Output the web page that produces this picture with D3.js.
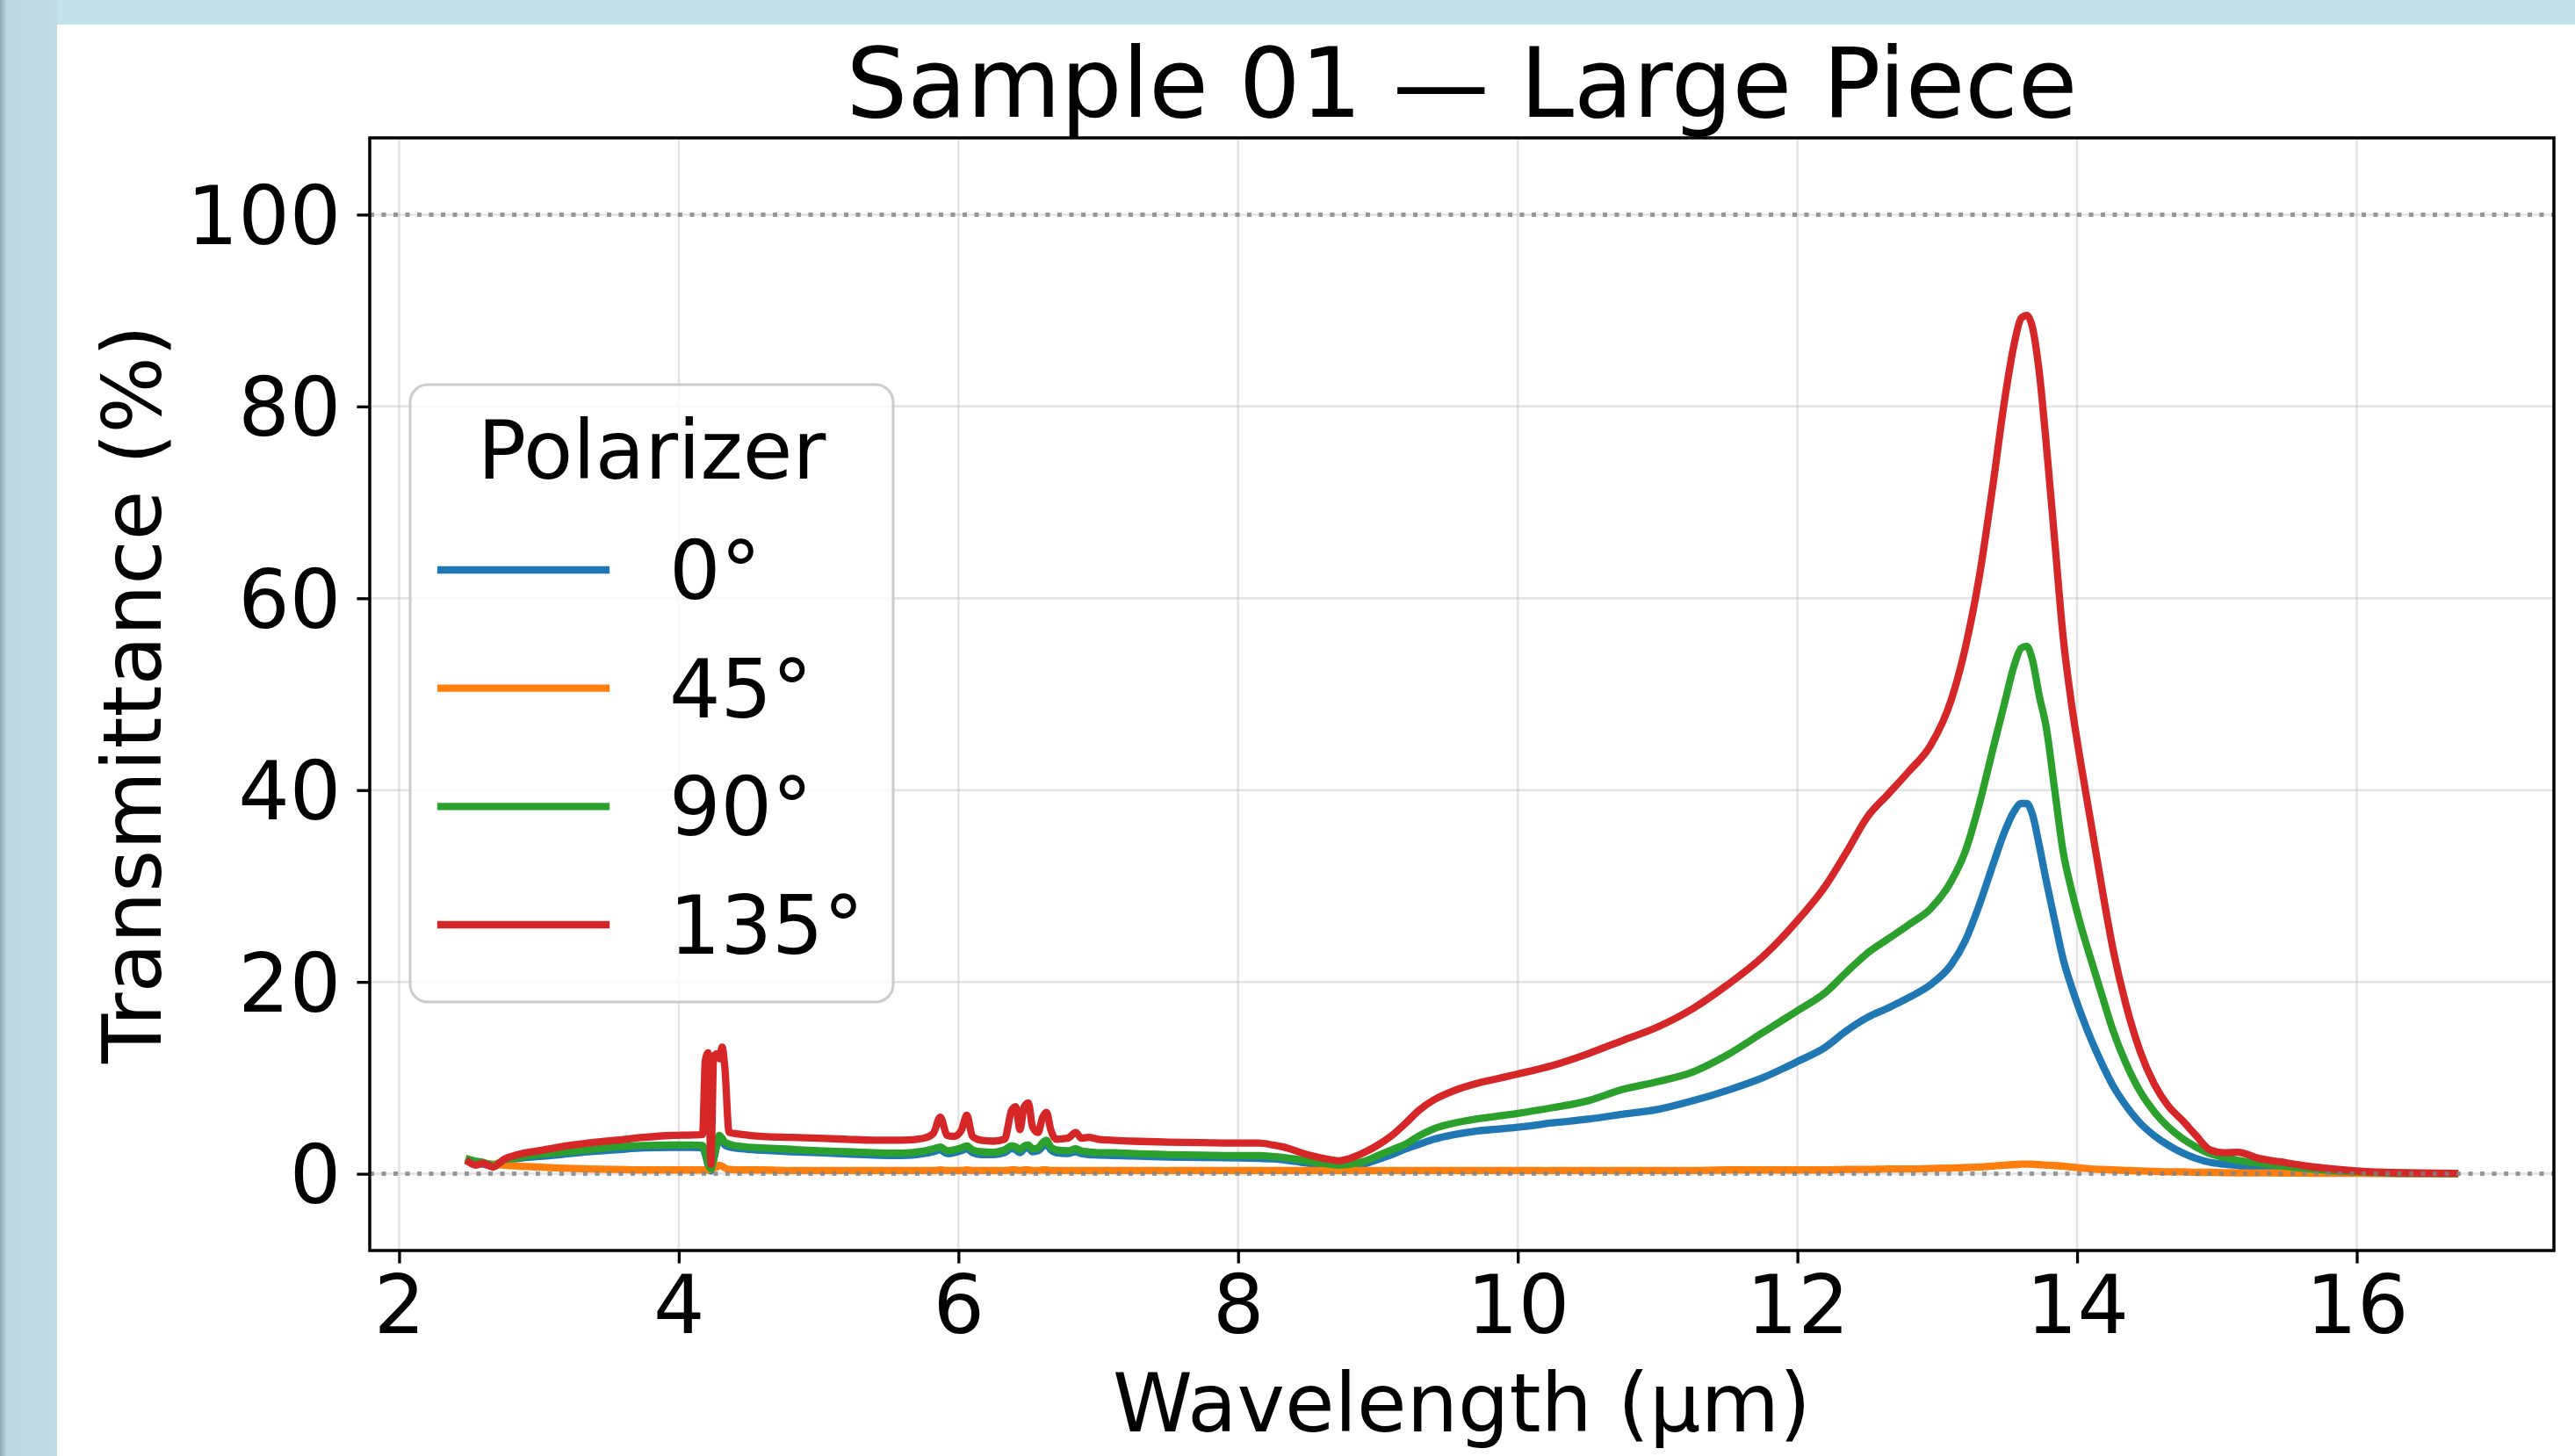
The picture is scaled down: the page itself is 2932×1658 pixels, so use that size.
<!DOCTYPE html>
<html>
<head>
<meta charset="utf-8">
<script src="https://cdn.jsdelivr.net/npm/d3@7"></script>
<style>
  html, body { margin: 0; padding: 0; background: #ffffff; }
  svg { display: block; }
  text { font-family: "DejaVu Sans", sans-serif; fill: #000; }
</style>
</head>
<body>
<svg id="chart" width="2932" height="1658"></svg>
<script>
// ---------------- data ----------------
const chartTitle = "Sample 01 — Large Piece";
const xLabel = "Wavelength (μm)";
const yLabel = "Transmittance (%)";
const legendTitle = "Polarizer";
const seriesLabels = ["0°", "45°", "90°", "135°"];
const seriesColors = ["#1f77b4", "#ff7f0e", "#2ca02c", "#d62728"];
const xTicks = [2, 4, 6, 8, 10, 12, 14, 16];
const yTicks = [0, 20, 40, 60, 80, 100];
const refLines = [0, 100];

const wavelength = [
  2.50, 2.55, 2.60, 2.67, 2.75, 2.85, 3.00, 3.15, 3.35, 3.55, 3.75, 3.95, 4.10, 4.17,
  4.19, 4.21, 4.23, 4.25, 4.27, 4.29, 4.31, 4.33, 4.36, 4.45, 4.60, 4.80, 5.00, 5.20,
  5.40, 5.60, 5.75, 5.82, 5.87, 5.92, 5.97, 6.02, 6.06, 6.10, 6.16, 6.25, 6.33, 6.38,
  6.41, 6.44, 6.47, 6.50, 6.53, 6.57, 6.60, 6.63, 6.66, 6.70, 6.78, 6.84, 6.88, 6.93,
  7.00, 7.10, 7.25, 7.50, 7.75, 8.00, 8.15, 8.25, 8.35, 8.45, 8.55, 8.65, 8.72, 8.80,
  8.90, 9.00, 9.10, 9.20, 9.30, 9.40, 9.55, 9.70, 9.85, 10.00, 10.25, 10.50, 10.75, 11.00,
  11.25, 11.50, 11.75, 12.00, 12.20, 12.35, 12.50, 12.65, 12.80, 12.95, 13.10, 13.20, 13.30, 13.40,
  13.48, 13.55, 13.60, 13.64, 13.68, 13.73, 13.78, 13.84, 13.90, 13.96, 14.03, 14.10, 14.18, 14.26,
  14.35, 14.45, 14.55, 14.65, 14.75, 14.85, 14.95, 15.05, 15.15, 15.30, 15.45, 15.60, 15.80, 16.00,
  16.20, 16.45, 16.70
];

// 0° polarizer
const t0 = [
  1.3, 1.1, 1.0, 0.8, 1.3, 1.6, 1.8, 2.0, 2.3, 2.5, 2.7, 2.75, 2.75, 2.7,
  2.0, 0.9, 0.3, 1.5, 2.8, 3.6, 3.4, 3.0, 2.8, 2.6, 2.45, 2.3, 2.2, 2.05,
  1.95, 1.9, 2.1, 2.3, 2.5, 2.1, 2.2, 2.4, 2.6, 2.2, 2.0, 2.0, 2.2, 2.6,
  2.5, 2.2, 2.6, 2.7, 2.3, 2.4, 2.8, 3.1, 2.5, 2.2, 2.1, 2.3, 2.1, 2.0,
  1.95, 1.9, 1.85, 1.75, 1.7, 1.65, 1.6, 1.55, 1.4, 1.2, 1.0, 0.8, 0.7, 0.75,
  1.0, 1.5, 2.0, 2.6, 3.1, 3.6, 4.1, 4.45, 4.65, 4.85, 5.3, 5.7, 6.2, 6.7,
  7.6, 8.7, 10.0, 11.7, 13.2, 14.9, 16.3, 17.3, 18.4, 19.7, 21.8, 24.3, 28.0, 32.3,
  35.6, 37.8, 38.6, 38.6, 37.5, 34.2, 30.5, 26.4, 22.4, 19.5, 16.6, 14.0, 11.4, 9.1,
  7.1, 5.3, 4.0, 3.0, 2.2, 1.6, 1.2, 1.0, 0.85, 0.6, 0.45, 0.3, 0.18, 0.1,
  0.06, 0.03, 0.02
];

// 45° polarizer
const t45 = [
  1.4, 1.2, 1.1, 1.0, 0.9, 0.8, 0.7, 0.6, 0.5, 0.45, 0.4, 0.4, 0.4, 0.4,
  0.4, 0.4, 0.5, 0.6, 0.7, 0.9, 0.8, 0.6, 0.45, 0.4, 0.4, 0.35, 0.35, 0.35,
  0.35, 0.35, 0.35, 0.35, 0.4, 0.35, 0.35, 0.35, 0.4, 0.35, 0.35, 0.35, 0.35, 0.4,
  0.4, 0.35, 0.4, 0.4, 0.35, 0.35, 0.4, 0.4, 0.35, 0.35, 0.35, 0.35, 0.35, 0.35,
  0.35, 0.35, 0.35, 0.35, 0.35, 0.35, 0.35, 0.35, 0.35, 0.35, 0.35, 0.35, 0.35, 0.35,
  0.35, 0.35, 0.35, 0.35, 0.35, 0.35, 0.35, 0.35, 0.35, 0.35, 0.35, 0.35, 0.35, 0.35,
  0.35, 0.4, 0.4, 0.4, 0.4, 0.45, 0.45, 0.5, 0.5, 0.55, 0.6, 0.65, 0.7, 0.8,
  0.9, 0.95, 1.0, 1.0, 1.0, 0.95, 0.9, 0.85, 0.8, 0.7, 0.6, 0.5, 0.45, 0.4,
  0.35, 0.3, 0.25, 0.2, 0.2, 0.15, 0.15, 0.12, 0.1, 0.1, 0.08, 0.06, 0.05, 0.04,
  0.03, 0.02, 0.02
];

// 90° polarizer
const t90 = [
  1.5, 1.3, 1.2, 0.9, 1.4, 1.7, 2.0, 2.2, 2.5, 2.8, 2.95, 3.0, 3.0, 2.95,
  2.2, 1.0, 0.5, 1.6, 3.0, 4.0, 3.7, 3.3, 3.1, 2.85, 2.7, 2.55, 2.4, 2.3,
  2.2, 2.15, 2.35, 2.6, 2.8, 2.4, 2.5, 2.7, 2.9, 2.5, 2.3, 2.25, 2.5, 2.9,
  2.8, 2.5, 2.9, 3.0, 2.6, 2.7, 3.2, 3.5, 2.8, 2.5, 2.4, 2.6, 2.4, 2.3,
  2.2, 2.2, 2.1, 2.0, 1.95, 1.9, 1.9, 1.8, 1.65, 1.45, 1.2, 1.0, 0.9, 1.0,
  1.3, 1.9, 2.5, 3.1, 4.0, 4.7, 5.3, 5.7, 6.0, 6.3, 6.9, 7.6, 8.8, 9.6,
  10.6, 12.4, 14.7, 17.0, 18.9, 21.0, 23.0, 24.5, 26.0, 27.6, 30.5, 33.6, 38.5, 44.4,
  49.0, 53.0, 54.8, 55.0, 53.6, 49.8, 46.5, 40.0, 33.6, 29.6, 25.7, 22.3, 18.5, 14.8,
  11.5, 8.6, 6.5, 4.9, 3.7, 2.8, 2.1, 1.7, 1.4, 1.1, 0.85, 0.6, 0.35, 0.2,
  0.1, 0.05, 0.03
];

// 135° polarizer
const t135 = [
  1.2, 0.9, 1.1, 0.7, 1.5, 2.0, 2.4, 2.8, 3.2, 3.5, 3.8, 4.0, 4.05, 4.1,
  11.8, 12.6, 1.0, 12.2, 12.5, 12.0, 13.2, 11.0, 4.3, 4.1, 3.9, 3.8, 3.7, 3.6,
  3.5, 3.5, 3.7, 4.2, 5.9, 4.0, 3.9, 4.5, 6.1, 3.9, 3.5, 3.4, 3.6, 6.6,
  7.0, 4.6, 7.0, 7.4, 4.9, 4.3, 5.8, 6.4, 4.6, 3.6, 3.7, 4.3, 3.7, 3.8,
  3.6, 3.5, 3.4, 3.3, 3.25, 3.2, 3.2, 3.0, 2.7, 2.2, 1.8, 1.5, 1.35, 1.6,
  2.2, 3.0, 4.0, 5.3, 6.7, 7.7, 8.7, 9.4, 9.9, 10.4, 11.3, 12.5, 13.9, 15.3,
  17.2, 19.7, 22.6, 26.4, 30.0, 33.5, 37.2, 39.6, 42.0, 44.6, 49.4, 54.8, 62.2, 72.0,
  80.5, 86.5, 89.2, 89.5, 88.3, 83.5, 76.0, 66.0, 56.0, 49.0, 42.5, 36.5, 29.6, 23.2,
  17.6, 12.8, 9.4, 7.1, 5.6, 4.0, 2.5, 2.2, 2.25, 1.6, 1.25, 0.9, 0.55, 0.3,
  0.15, 0.08, 0.05
];

const seriesValues = [t0, t45, t90, t135];

// ---------------- layout ----------------
const W = 2932, H = 1658;
const plot = { left: 421, right: 2908, top: 157, bottom: 1424 };
const xDomain = [1.79, 17.41];
const yDomain = [-8, 108];

const svg = d3.select("#chart");

// screenshot-like frame bands
const defs = svg.append("defs");
const grad = defs.append("linearGradient").attr("id", "edgeGrad")
  .attr("x1", "0%").attr("x2", "100%");
grad.append("stop").attr("offset", "0%").attr("stop-color", "#8fa8b1");
grad.append("stop").attr("offset", "12%").attr("stop-color", "#bcd7de");
grad.append("stop").attr("offset", "100%").attr("stop-color", "#c0dbe2");
svg.append("rect").attr("x", 0).attr("y", 0).attr("width", W).attr("height", H).attr("fill", "#ffffff");
svg.append("rect").attr("x", 0).attr("y", 0).attr("width", W).attr("height", 28).attr("fill", "#c3e1ea");
svg.append("rect").attr("x", 0).attr("y", 0).attr("width", 65).attr("height", H).attr("fill", "url(#edgeGrad)");

const x = d3.scaleLinear().domain(xDomain).range([plot.left, plot.right]);
const y = d3.scaleLinear().domain(yDomain).range([plot.bottom, plot.top]);

defs.append("clipPath").attr("id", "plotClip").append("rect")
  .attr("x", plot.left).attr("y", plot.top)
  .attr("width", plot.right - plot.left).attr("height", plot.bottom - plot.top);

// grid
const grid = svg.append("g");
grid.selectAll(".vg").data(xTicks).join("line")
  .attr("x1", d => x(d)).attr("x2", d => x(d))
  .attr("y1", plot.top).attr("y2", plot.bottom)
  .attr("stroke", "#b0b0b0").attr("stroke-opacity", 0.35).attr("stroke-width", 2.5);
grid.selectAll(".hg").data(yTicks).join("line")
  .attr("x1", plot.left).attr("x2", plot.right)
  .attr("y1", d => y(d)).attr("y2", d => y(d))
  .attr("stroke", "#b0b0b0").attr("stroke-opacity", 0.35).attr("stroke-width", 2.5);

// data lines
const line = d3.line()
  .x((d, i) => x(wavelength[i]))
  .y(d => y(d))
  .curve(d3.curveMonotoneX);

const dataG = svg.append("g").attr("clip-path", "url(#plotClip)");
seriesValues.forEach((vals, k) => {
  dataG.append("path")
    .attr("d", line(vals))
    .attr("fill", "none")
    .attr("stroke", seriesColors[k])
    .attr("stroke-width", 8.3)
    .attr("stroke-linejoin", "round")
    .attr("stroke-linecap", "square");
});

// dotted reference lines
dataG.selectAll(".ref").data(refLines).join("line")
  .attr("x1", plot.left).attr("x2", plot.right)
  .attr("y1", d => y(d)).attr("y2", d => y(d))
  .attr("stroke", "#808080").attr("stroke-opacity", 0.8)
  .attr("stroke-width", 5).attr("stroke-dasharray", "5 8.5");

// axes
const xAxis = d3.axisBottom(x).tickValues(xTicks).tickFormat(d3.format("d"))
  .tickSize(14.6).tickPadding(14);
const yAxis = d3.axisLeft(y).tickValues(yTicks).tickFormat(d3.format("d"))
  .tickSize(14.6).tickPadding(18);

const gx = svg.append("g").attr("transform", `translate(0,${plot.bottom})`).call(xAxis);
const gy = svg.append("g").attr("transform", `translate(${plot.left},0)`).call(yAxis);
[gx, gy].forEach(g => {
  g.select(".domain").remove();
  g.selectAll(".tick line").attr("stroke", "#000").attr("stroke-width", 3.3);
  g.selectAll(".tick text").attr("font-family", "DejaVu Sans").attr("font-size", 92).attr("fill", "#000");
});
gx.selectAll(".tick text").attr("dy", "0.71em");
gy.selectAll(".tick text").attr("dy", "0.36em");

// frame
svg.append("rect")
  .attr("x", plot.left).attr("y", plot.top)
  .attr("width", plot.right - plot.left).attr("height", plot.bottom - plot.top)
  .attr("fill", "none").attr("stroke", "#000").attr("stroke-width", 3.5);

// title & labels
svg.append("text").attr("x", (plot.left + plot.right) / 2).attr("y", 133)
  .attr("text-anchor", "middle").attr("font-size", 110).text(chartTitle);
svg.append("text").attr("x", (plot.left + plot.right) / 2).attr("y", 1630)
  .attr("text-anchor", "middle").attr("font-size", 92).text(xLabel);
svg.append("text")
  .attr("transform", `translate(183,${(plot.top + plot.bottom) / 2}) rotate(-90)`)
  .attr("text-anchor", "middle").attr("font-size", 92).text(yLabel);

// legend
const legend = svg.append("g");
legend.append("rect")
  .attr("x", 467).attr("y", 438).attr("width", 550).attr("height", 703)
  .attr("rx", 20).attr("ry", 20)
  .attr("fill", "#ffffff").attr("fill-opacity", 0.8)
  .attr("stroke", "#cccccc").attr("stroke-width", 3);
legend.append("text").attr("x", 742).attr("y", 545)
  .attr("text-anchor", "middle").attr("font-size", 92).text(legendTitle);
const entryY = d3.scaleLinear().domain([0, 3]).range([649, 1053]);
seriesLabels.forEach((lab, k) => {
  legend.append("line")
    .attr("x1", 502).attr("x2", 690)
    .attr("y1", entryY(k)).attr("y2", entryY(k))
    .attr("stroke", seriesColors[k]).attr("stroke-width", 8.3)
    .attr("stroke-linecap", "square");
  legend.append("text").attr("x", 762).attr("y", entryY(k))
    .attr("dy", "0.36em").attr("font-size", 92).text(lab);
});
</script>
</body>
</html>
